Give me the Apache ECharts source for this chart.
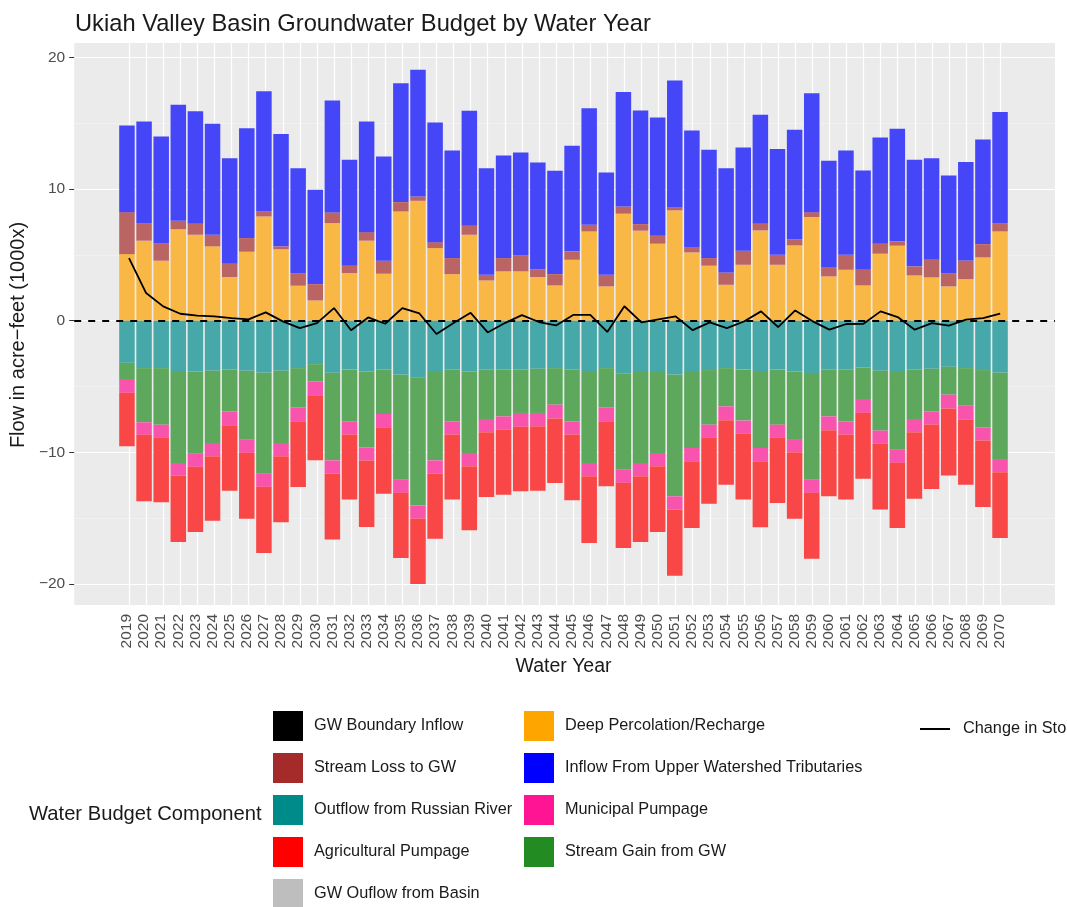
<!DOCTYPE html>
<html>
<head>
<meta charset="utf-8">
<script src="https://cdn.jsdelivr.net/npm/echarts@6/dist/echarts.min.js"></script>
<style>
  html, body { margin: 0; padding: 0; background: #ffffff; }
  #chart { width: 1067px; height: 907px; }
</style>
</head>
<body>
<div id="chart"></div>
<script>
// Water years on the horizontal axis
const years = [2019, 2020, 2021, 2022, 2023, 2024, 2025, 2026, 2027, 2028, 2029, 2030, 2031,
  2032, 2033, 2034, 2035, 2036, 2037, 2038, 2039, 2040, 2041, 2042, 2043, 2044, 2045, 2046,
  2047, 2048, 2049, 2050, 2051, 2052, 2053, 2054, 2055, 2056, 2057, 2058, 2059, 2060, 2061,
  2062, 2063, 2064, 2065, 2066, 2067, 2068, 2069, 2070];

// Inflows (thousand acre-feet)
const deepPercolation = [5.06, 6.08, 4.56, 6.96, 6.53, 5.65, 3.32, 5.24, 7.92, 5.44, 2.66, 1.54, 7.42,
  3.62, 6.08, 3.57, 8.30, 9.11, 5.52, 3.54, 6.53, 3.06, 3.75, 3.75, 3.32, 2.68, 4.63, 6.78,
  2.61, 8.13, 6.84, 5.85, 8.38, 5.19, 4.18, 2.73, 4.25, 6.86, 4.25, 5.72, 7.87, 3.37, 3.87,
  2.68, 5.09, 5.70, 3.44, 3.29, 2.61, 3.16, 4.81, 6.78];
const streamLoss = [3.19, 1.34, 1.31, 0.63, 0.84, 0.88, 1.01, 1.04, 0.38, 0.21, 0.96, 1.24, 0.81,
  0.56, 0.65, 0.99, 0.71, 0.33, 0.45, 1.22, 0.69, 0.43, 1.01, 1.21, 0.60, 0.86, 0.64, 0.51,
  0.88, 0.55, 0.50, 0.61, 0.23, 0.40, 0.58, 0.94, 1.07, 0.51, 0.76, 0.48, 0.38, 0.71, 1.14,
  1.19, 0.76, 0.33, 0.69, 1.34, 1.01, 1.42, 1.01, 0.64];
const upperTributaries = [6.59, 7.72, 8.13, 8.81, 8.55, 8.43, 8.02, 8.35, 9.14, 8.53, 7.97, 7.17, 8.50,
  8.05, 8.41, 7.92, 9.04, 9.62, 9.09, 8.18, 8.73, 8.10, 7.80, 7.82, 8.11, 7.85, 8.02, 8.86,
  7.78, 8.69, 8.63, 8.98, 9.64, 8.87, 8.23, 7.92, 7.84, 8.28, 8.03, 8.31, 9.04, 8.07, 7.93,
  7.55, 8.07, 8.55, 8.10, 7.72, 7.42, 7.47, 7.94, 8.43];

// Outflows (thousand acre-feet, negative)
const russianRiverOutflow = [-3.20, -3.60, -3.60, -3.90, -3.85, -3.80, -3.70, -3.80, -3.95, -3.80, -3.60, -3.30, -3.95,
  -3.70, -3.85, -3.70, -4.10, -4.30, -3.90, -3.70, -3.85, -3.70, -3.70, -3.70, -3.65, -3.60, -3.70, -3.90,
  -3.60, -4.00, -3.90, -3.90, -4.10, -3.90, -3.75, -3.60, -3.70, -3.90, -3.70, -3.85, -4.05, -3.70, -3.70,
  -3.55, -3.80, -3.90, -3.70, -3.65, -3.50, -3.60, -3.75, -3.95];
const streamGain = [-1.23, -4.12, -4.30, -6.91, -6.25, -5.49, -3.19, -5.24, -7.67, -5.49, -2.98, -1.31, -6.66,
  -3.95, -5.77, -3.39, -7.98, -9.73, -6.71, -3.95, -6.20, -3.77, -3.57, -3.31, -3.36, -2.78, -3.95, -6.91,
  -2.98, -7.32, -6.91, -6.15, -9.24, -5.77, -4.15, -2.91, -3.89, -5.77, -4.20, -5.14, -8.03, -3.57, -3.95,
  -2.40, -4.55, -5.90, -3.77, -3.24, -2.12, -2.86, -4.35, -6.56];
const municipalPumpage = [-1.05, -0.95, -1.00, -0.95, -1.00, -1.00, -1.05, -1.00, -1.00, -1.00, -1.05, -1.05, -1.00,
  -1.00, -1.00, -1.05, -1.00, -1.00, -1.00, -1.00, -1.00, -1.00, -1.00, -1.05, -1.00, -1.05, -1.00, -1.00,
  -1.05, -1.00, -1.00, -1.00, -1.00, -1.00, -1.00, -1.05, -1.00, -1.00, -1.00, -1.00, -1.00, -1.05, -1.00,
  -1.05, -1.00, -1.00, -1.00, -1.00, -1.05, -1.05, -1.00, -1.00];
const agPumpage = [-4.06, -5.05, -4.90, -5.05, -4.95, -4.90, -4.97, -5.00, -5.03, -5.03, -5.00, -4.95, -5.02,
  -4.94, -5.05, -5.00, -4.95, -4.97, -4.95, -4.94, -4.87, -4.92, -4.95, -4.90, -4.90, -4.90, -5.00, -5.08,
  -4.95, -4.95, -5.00, -5.00, -5.03, -5.08, -5.00, -4.90, -5.00, -5.03, -4.95, -5.05, -5.00, -5.02, -4.94,
  -5.00, -5.00, -4.95, -5.05, -4.89, -5.10, -4.95, -5.05, -5.00];

// Net change in groundwater storage
const storageChange = [4.76, 2.10, 1.09, 0.53, 0.38, 0.33, 0.20, 0.10, 0.63, -0.05, -0.56, -0.18, 0.96,
  -0.73, 0.25, -0.23, 0.96, 0.55, -1.01, -0.18, 0.60, -0.89, -0.18, 0.42, -0.10, -0.36, 0.44, 0.44,
  -0.85, 1.10, -0.13, 0.10, 0.33, -0.72, -0.13, -0.56, -0.06, 0.71, -0.48, 0.78, -0.03, -0.68, -0.25,
  -0.23, 0.71, 0.28, -0.68, -0.18, -0.38, 0.08, 0.20, 0.53];

const yTicks = [-20, -10, 0, 10, 20];
const yMinorTicks = [-15, -5, 5, 15];

const FONT = '"Liberation Sans", Arial, Helvetica, sans-serif';
const Y_MIN = -21.6, Y_MAX = 21.1;
// panel spans a little more than the year range on each side
const X_MIN = 2015.79, X_MAX = 2073.21;

// panel and bar area share top/bottom; the bar area is inset so year bands line up with X_MIN..X_MAX
const PANEL = { left: 72, right: 12, top: 43, bottom: 302 };
const panelWidth = 1067 - PANEL.left - PANEL.right;
const pxPerYear = panelWidth / (X_MAX - X_MIN);
const barArea = {
  left: PANEL.left + (years[0] - 0.5 - X_MIN) * pxPerYear,
  right: PANEL.right + (X_MAX - years[years.length - 1] - 0.5) * pxPerYear,
  top: PANEL.top, bottom: PANEL.bottom
};

// component name, key colour, bar colour (key colour at 70% over the panel grey)
const components = [
  ['GW Boundary Inflow', '#000000', '#474747', null],
  ['Deep Percolation/Recharge', '#FFA500', '#F9B846', deepPercolation],
  ['Stream Loss to GW', '#A52A2A', '#BA6464', streamLoss],
  ['Inflow From Upper Watershed Tributaries', '#0000FF', '#4646F9', upperTributaries],
  ['Outflow from Russian River', '#008B8B', '#46A8A8', russianRiverOutflow],
  ['Stream Gain from GW', '#228B22', '#5EA85E', streamGain],
  ['Municipal Pumpage', '#FF1493', '#F954AD', municipalPumpage],
  ['GW Ouflow from Basin', '#BEBEBE', '#CBCBCB', null],
  ['Agricultural Pumpage', '#FF0000', '#F94646', agPumpage]
];
const keyColor = {};
components.forEach(c => { keyColor[c[0]] = c[1]; });

const barSeries = components.map(c => ({
  name: c[0],
  type: 'bar',
  stack: 'budget',
  xAxisIndex: 1,
  yAxisIndex: 2,
  barWidth: 15.5,
  itemStyle: { color: c[2] },
  emphasis: { disabled: true },
  data: c[3] ? c[3].slice() : []
}));

const legendItems = names => names.map(n => ({ name: n, icon: 'rect', itemStyle: { color: keyColor[n], opacity: 1 } }));

const legendBase = {
  orient: 'vertical',
  top: 706,
  height: 260,
  itemWidth: 30,
  itemHeight: 30,
  itemGap: 12,
  selectedMode: false,
  textStyle: { fontFamily: FONT, fontSize: 16.3, color: '#1a1a1a', padding: [0, 0, 0, 6] }
};

const chart = echarts.init(document.getElementById('chart'), null, { renderer: 'canvas' });
chart.setOption({
  animation: false,
  backgroundColor: '#ffffff',
  title: [
    {
      text: 'Ukiah Valley Basin Groundwater Budget by Water Year',
      left: 70, top: 7,
      textStyle: { fontFamily: FONT, fontSize: 23.7, fontWeight: 'normal', color: '#1a1a1a' }
    },
    {
      text: 'Water Budget Component',
      left: 24, top: 799,
      textStyle: { fontFamily: FONT, fontSize: 20.2, fontWeight: 'normal', color: '#1a1a1a' }
    }
  ],
  legend: [
    Object.assign({}, legendBase, {
      left: 268,
      data: legendItems(['GW Boundary Inflow', 'Stream Loss to GW', 'Outflow from Russian River',
        'Agricultural Pumpage', 'GW Ouflow from Basin'])
    }),
    Object.assign({}, legendBase, {
      left: 519,
      data: legendItems(['Deep Percolation/Recharge', 'Inflow From Upper Watershed Tributaries',
        'Municipal Pumpage', 'Stream Gain from GW'])
    }),
    Object.assign({}, legendBase, {
      left: 915,
      top: 716,
      itemWidth: 30,
      itemHeight: 2,
      textStyle: { fontFamily: FONT, fontSize: 16.3, color: '#1a1a1a', padding: [0, 0, 0, 8] },
      data: [{ name: 'Change in Storage', icon: 'rect', itemStyle: { color: '#000000' } }]
    })
  ],
  grid: [
    Object.assign({ show: true, backgroundColor: '#EBEBEB', borderWidth: 0 }, PANEL),
    Object.assign({ show: false }, barArea)
  ],
  xAxis: [
    {
      // panel scale: vertical grid lines at every year
      type: 'value',
      gridIndex: 0,
      min: X_MIN, max: X_MAX,
      axisLine: { show: false },
      axisTick: { show: false, customValues: years },
      axisLabel: { show: false, customValues: years },
      splitLine: { show: true, customValues: years, lineStyle: { color: '#FFFFFF', width: 1.2 } }
    },
    {
      type: 'category',
      gridIndex: 1,
      data: years,
      name: 'Water Year',
      nameLocation: 'middle',
      nameGap: 50,
      nameTextStyle: { fontFamily: FONT, fontSize: 19.5, color: '#1a1a1a' },
      axisLine: { show: false },
      axisTick: { show: true, alignWithLabel: true, length: 5, lineStyle: { color: '#333333', width: 1 } },
      axisLabel: {
        interval: 0, rotate: 90, margin: 9,
        fontFamily: FONT, fontSize: 15.5, color: '#4D4D4D'
      },
      splitLine: { show: false }
    }
  ],
  yAxis: [
    {
      type: 'value',
      gridIndex: 0,
      min: Y_MIN, max: Y_MAX,
      name: 'Flow in acre\u2212feet (1000x)',
      nameLocation: 'middle',
      nameGap: 29,
      nameRotate: 90,
      nameTextStyle: { fontFamily: FONT, fontSize: 20, color: '#1a1a1a', padding: [0, 22, 0, 0] },
      axisLine: { show: false },
      axisTick: { show: true, customValues: yTicks, length: 5, lineStyle: { color: '#333333', width: 1 } },
      axisLabel: {
        customValues: yTicks, margin: 9,
        fontFamily: FONT, fontSize: 15.5, color: '#4D4D4D',
        formatter: v => String(v).replace('-', '\u2212')
      },
      splitLine: { show: true, customValues: yTicks, lineStyle: { color: '#FFFFFF', width: 1.2 } }
    },
    {
      type: 'value',
      gridIndex: 0,
      min: Y_MIN, max: Y_MAX,
      axisLine: { show: false },
      axisTick: { show: false, customValues: yMinorTicks },
      axisLabel: { show: false, customValues: yMinorTicks },
      splitLine: { show: true, customValues: yMinorTicks, lineStyle: { color: '#F5F5F5', width: 0.6 } }
    },
    {
      type: 'value',
      gridIndex: 1,
      min: Y_MIN, max: Y_MAX,
      axisLine: { show: false },
      axisTick: { show: false },
      axisLabel: { show: false },
      splitLine: { show: false }
    }
  ],
  series: barSeries.concat([
    {
      name: 'Change in Storage',
      type: 'line',
      xAxisIndex: 0,
      yAxisIndex: 0,
      data: years.map((y, i) => [y, storageChange[i]]),
      symbol: 'none',
      showSymbol: false,
      z: 5,
      itemStyle: { color: '#000000' },
      lineStyle: { color: '#000000', width: 1.8 },
      emphasis: { disabled: true },
      markLine: {
        silent: true,
        symbol: ['none', 'none'],
        label: { show: false },
        lineStyle: { color: '#000000', type: [7, 7], width: 1.8 },
        data: [{ yAxis: 0 }]
      }
    }
  ])
});
</script>
</body>
</html>
